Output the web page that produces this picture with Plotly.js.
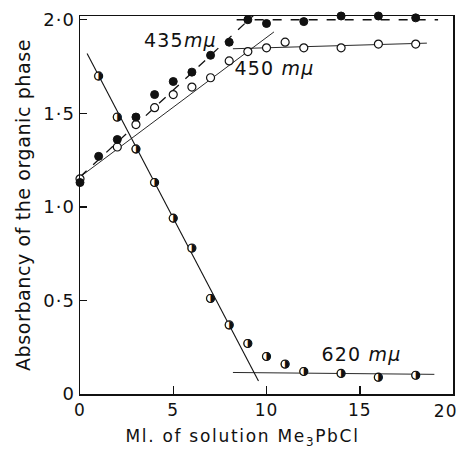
<!DOCTYPE html>
<html>
<head>
<meta charset="utf-8">
<script src="https://cdn.plot.ly/plotly-3.0.1.min.js"></script>
<style>
html,body{margin:0;padding:0;background:#fff;}
#chart{width:461px;height:449px;}
#chart .ytitle{letter-spacing:0.6px;}
#chart .annotation-text{letter-spacing:1.2px;}
#chart .annotation:last-child .annotation-text{letter-spacing:1.7px;}
#chart .xtick text, #chart .ytick text{letter-spacing:1px;}
</style>
</head>
<body>
<div id="chart"></div>
<script>
// Measured points
const x435 = [0,1,2,3,4,5,6,7,8,9,10,11,12,14,16,18];
const y435 = [1.13,1.27,1.36,1.48,1.60,1.67,1.72,1.81,1.88,2.00,1.98,2.03,1.99,2.02,2.02,2.01];

const x450 = [0,2,3,4,5,6,7,8,9,10,11,12,14,16,18];
const y450 = [1.15,1.32,1.44,1.53,1.60,1.64,1.69,1.78,1.83,1.85,1.88,1.85,1.85,1.87,1.87];

const x620 = [1,2,3,4,5,6,7,8,9,10,11,12,14,16,18];
const y620 = [1.70,1.48,1.31,1.13,0.94,0.78,0.51,0.37,0.27,0.20,0.16,0.12,0.11,0.09,0.10];

// Drawn fit lines
const fit435x = [0, 9.7];      const fit435y = [1.16, 2.06];
const flat435x = [8.4, 19.2];  const flat435y = [2.0, 2.0];
const fit450x = [0, 10.4];     const fit450y = [1.16, 1.935];
const flat450x = [8.2, 18.6];  const flat450y = [1.845, 1.875];
const fit620x = [0.38, 9.57];  const fit620y = [1.82, 0.07];
const flat620x = [8.2, 19.0];  const flat620y = [0.115, 0.105];

// Ticks
const yTickVals = [0, 0.5, 1.0, 1.5, 2.0];
const yTickText = ['0', '0·5', '1·0', '1·5', '2·0'];
const xTickVals = [0, 5, 10, 15, 20];
const xTickText = ['0', '5', '10', '15', '20'];
const xTitle = 'Ml. of solution Me<sub>3</sub>PbCl';
const yTitle = 'Absorbancy of the organic phase';

// Labels
const labels = [
  {x: 5.4, y: 1.89, text: '435<i>mμ</i>'},
  {x: 10.45, y: 1.74, text: '450 <i>mμ</i>'},
  {x: 15.1, y: 0.215, text: '620 <i>mμ</i>'}
];

const lineStyle = (dash, w) => ({color: '#111', width: w, dash: dash});

const traces = [
  {x: fit435x, y: fit435y, mode: 'lines', line: lineStyle('dash', 1.3), hoverinfo: 'skip'},
  {x: flat435x, y: flat435y, mode: 'lines', line: lineStyle('dash', 1.3), hoverinfo: 'skip'},
  {x: fit450x, y: fit450y, mode: 'lines', line: lineStyle('solid', 0.9), hoverinfo: 'skip'},
  {x: flat450x, y: flat450y, mode: 'lines', line: lineStyle('solid', 0.9), hoverinfo: 'skip'},
  {x: fit620x, y: fit620y, mode: 'lines', line: lineStyle('solid', 1.1), hoverinfo: 'skip'},
  {x: flat620x, y: flat620y, mode: 'lines', line: lineStyle('solid', 0.9), hoverinfo: 'skip'},
  {x: x450, y: y450, mode: 'markers', cliponaxis: false,
   marker: {symbol: 'circle', size: 8, color: '#fff', line: {color: '#111', width: 1.2}}},
  {x: x435, y: y435, mode: 'markers', cliponaxis: false,
   marker: {symbol: 'circle', size: 8, color: '#111', line: {color: '#111', width: 1}}},
  {x: x620, y: y620, mode: 'markers', cliponaxis: false,
   marker: {symbol: 'circle', size: 8, color: '#fff', line: {color: '#111', width: 1.1}}},
  {x: x620, y: y620, mode: 'text', cliponaxis: false, text: x620.map(() => '◑'),
   textposition: 'middle center', textfont: {family: 'DejaVu Sans', size: 11, color: '#111'}}
];

const font = {family: 'DejaVu Sans, sans-serif', color: '#111'};
const lastX = xTickVals.length - 1;

const layout = {
  width: 461, height: 449,
  margin: {l: 80, r: 8, t: 16, b: 55},
  paper_bgcolor: '#fff', plot_bgcolor: '#fff',
  showlegend: false,
  font: Object.assign({size: 16}, font),
  xaxis: {
    range: [0, 20], tickvals: xTickVals.slice(0, lastX), ticktext: xTickText.slice(0, lastX),
    ticks: 'inside', ticklen: 8, tickwidth: 1.5, tickcolor: '#111',
    showline: true, linecolor: '#111', linewidth: 1.5, mirror: true,
    showgrid: false, zeroline: false,
    tickfont: Object.assign({size: 17}, font)
  },
  yaxis: {
    range: [0, 2.02], tickvals: yTickVals, ticktext: yTickText,
    ticks: 'inside', ticklen: 7, tickwidth: 1.5, tickcolor: '#111',
    showline: true, linecolor: '#111', linewidth: 1.5, mirror: true,
    showgrid: false, zeroline: false,
    tickfont: Object.assign({size: 18}, font),
    title: {text: yTitle, font: Object.assign({size: 19}, font), standoff: 10}
  },
  annotations: labels.map(l => ({x: l.x, y: l.y, xref: 'x', yref: 'y', text: l.text,
    showarrow: false, font: Object.assign({size: 19}, font)})).concat([
    {x: xTickVals[lastX], y: 0, xref: 'x', yref: 'paper', text: xTickText[lastX],
     xanchor: 'right', yanchor: 'top', xshift: 6, yshift: -5, showarrow: false,
     font: Object.assign({size: 17}, font)},
    {x: 0.435, y: 0, xref: 'paper', yref: 'paper', text: xTitle,
     xanchor: 'center', yanchor: 'middle', yshift: -43, showarrow: false,
     font: Object.assign({size: 17}, font)}
  ])
};

Plotly.newPlot('chart', traces, layout, {displayModeBar: false, staticPlot: true});
</script>
</body>
</html>
